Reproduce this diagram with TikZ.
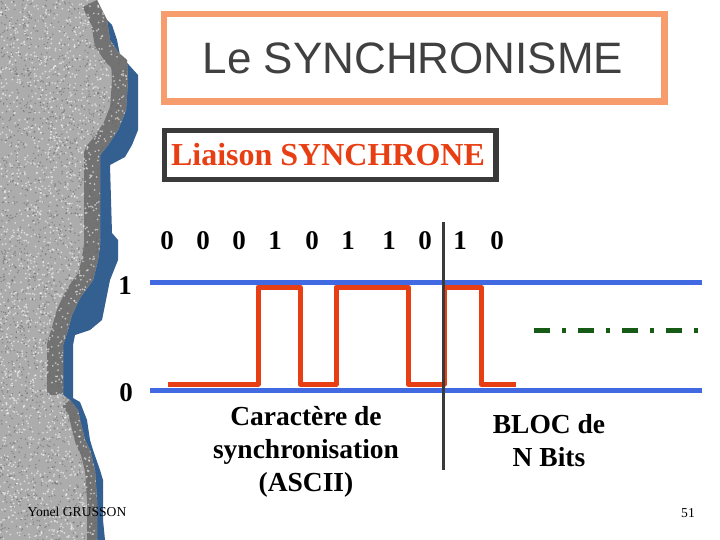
\documentclass[tikz,border=0pt]{standalone}
\usepackage{fontspec}
\setmainfont{Liberation Serif}
\newfontfamily\arialfont{Liberation Sans}
\definecolor{titleorange}{RGB}{247,156,108}
\definecolor{boxgray}{RGB}{58,58,58}
\definecolor{titlegray}{RGB}{64,64,64}
\definecolor{sigred}{RGB}{232,62,20}
\definecolor{levelblue}{RGB}{65,105,225}
\definecolor{dgreen}{RGB}{22,92,22}
\definecolor{stoneblue}{RGB}{52,95,145}
\definecolor{stonegray}{RGB}{172,172,172}
\definecolor{stonedark}{RGB}{115,115,115}
\tikzset{
  level/.style={levelblue, line width=5pt},
  signal/.style={sigred, line width=5pt, line join=round},
  sep/.style={boxgray, line width=3pt},
  bit/.style={font=\fontsize{27}{30}\selectfont\bfseries, inner sep=0pt},
  lbl/.style={font=\fontsize{27.5}{33}\selectfont\bfseries, align=center, inner sep=0pt},
}
\begin{document}
\begin{tikzpicture}[x=1pt,y=-1pt]
\useasboundingbox (0,0) rectangle (720,540);
% stone decoration
\fill[stoneblue] (97,0) -- (100,10) -- (107,20) -- (112,25) -- (117,40) -- (120,55) -- (138,75) -- (138,130) -- (132,145) -- (125,157) -- (110,165) -- (112,233) -- (118,240) -- (118,260) -- (110,280) -- (107,295) -- (102,320) -- (90,330) -- (75,335) -- (73,345) -- (73,398) -- (80,402) -- (87,420) -- (90,440) -- (93,450) -- (100,470) -- (103,480) -- (103,520) -- (105,540) -- (0,540) -- (0,0) -- cycle;
\begin{scope}
\clip (0,0) -- (97,0) -- (107,20) -- (110,40) -- (118,52) -- (127,60) -- (128,80) -- (126,110) -- (118,130) -- (108,145) -- (100,155) -- (100,245) -- (98,260) -- (93,280) -- (80,298) -- (72,315) -- (67,333) -- (63,345) -- (63,395) -- (70,400) -- (78,410) -- (80,420) -- (85,440) -- (90,450) -- (95,470) -- (97,500) -- (97,540) -- (0,540) -- cycle;
\fill[stonegray] (0,0) rectangle (140,540);
\draw[stonedark, line width=32pt, line join=round] (97,0) -- (107,20) -- (110,40) -- (118,52) -- (127,60) -- (128,80) -- (126,110) -- (118,130) -- (108,145) -- (100,155) -- (100,245) -- (98,260) -- (93,280) -- (80,298) -- (72,315) -- (67,333) -- (63,345) -- (63,395);
\draw[stonedark, line width=20pt, line join=round] (70,400) -- (78,410) -- (80,420) -- (85,440) -- (90,450) -- (95,470) -- (97,500) -- (97,540);
\pgfmathsetseed{11}
\foreach \i in {1,...,2600} {
  \pgfmathsetmacro\rx{rnd*140}
  \pgfmathsetmacro\ry{rnd*540}
  \fill[black!60, opacity=0.6] (\rx,\ry) circle (0.8pt);
}
\foreach \i in {1,...,2600} {
  \pgfmathsetmacro\rx{rnd*140}
  \pgfmathsetmacro\ry{rnd*540}
  \fill[white, opacity=0.55] (\rx,\ry) circle (1pt);
}
\end{scope}
% title
\draw[titleorange, line width=6.4pt] (164.2,14.2) rectangle (664.4,101.5);
\node[font=\arialfont\fontsize{44}{48}\selectfont, text=titlegray, inner sep=0pt] (title) at (413,58) {Le SYNCHRONISME};
\draw[boxgray, line width=5.5pt] (164.7,130.5) rectangle (496,179.5);
\node[font=\fontsize{32}{36}\selectfont\bfseries, text=sigred, inner sep=0pt, anchor=base] (liaison) at (328,165.5) {Liaison SYNCHRONE};
% bits
\node[bit] (b1) at (167,241) {0};
\node[bit] (b2) at (203,241) {0};
\node[bit] (b3) at (239,241) {0};
\node[bit] (b4) at (275,241) {1};
\node[bit] (b5) at (312,241) {0};
\node[bit] (b6) at (348,241) {1};
\node[bit] (b7) at (389,241) {1};
\node[bit] (b8) at (425,241) {0};
\node[bit] (b9) at (460,241) {1};
\node[bit] (b10) at (497,241) {0};
% levels
\node[bit] (one) at (125,286) {1};
\node[bit] (zero) at (126,393) {0};
\draw[level] (150,282) -- (702,282);
\draw[level] (150,390) -- (702,390);
% signal
\draw[signal] (168,384) -- (258,384) -- (258,287) -- (300,287) -- (300,384) -- (336,384) -- (336,287) -- (408,287) -- (408,384) -- (444,384) -- (444,287) -- (481,287) -- (481,384) -- (516,384);
\draw[dgreen, line width=4.5pt, dash pattern=on 16pt off 12pt on 4pt off 12pt] (534,330.7) -- (700,330.7);
% separator
\draw[sep] (443,222) -- (443,470);
% labels
\node[lbl] (synchro) at (306,452) {Caractère de\\synchronisation\\(ASCII)};
\node[lbl] (bloc) at (549,441) {BLOC de\\N Bits};
% footer
\node[font=\fontsize{13.6}{15}\selectfont, inner sep=0pt] (author) at (77,512) {Yonel GRUSSON};
\node[font=\fontsize{13.6}{15}\selectfont, inner sep=0pt] (page) at (688,513) {51};
\end{tikzpicture}
\end{document}
